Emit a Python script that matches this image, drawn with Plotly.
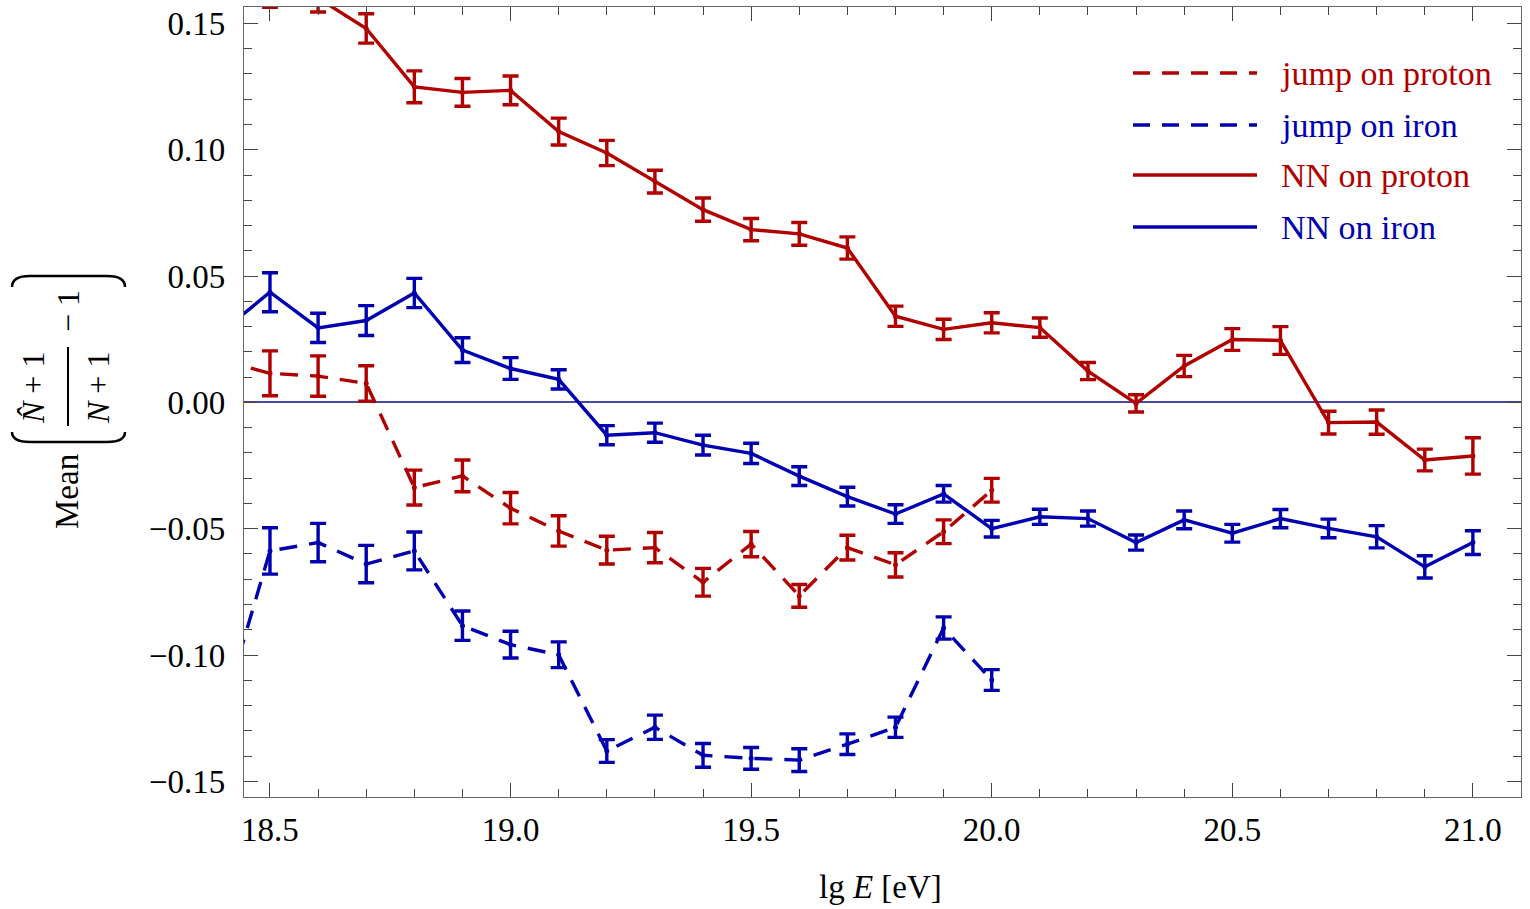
import plotly.graph_objects as go

# ---- data: lg E bins and mean relative deviation with errors ----
lgE_nn = [18.4, 18.5, 18.6, 18.7, 18.8, 18.9, 19.0, 19.1, 19.2, 19.3, 19.4, 19.5, 19.6,
          19.7, 19.8, 19.9, 20.0, 20.1, 20.2, 20.3, 20.4, 20.5, 20.6, 20.7, 20.8, 20.9, 21.0]
lgE_jump = [18.4, 18.5, 18.6, 18.7, 18.8, 18.9, 19.0, 19.1, 19.2, 19.3, 19.4, 19.5, 19.6,
            19.7, 19.8, 19.9, 20.0]

nn_proton = [0.1710, 0.1632, 0.1600, 0.1480, 0.1249, 0.1227, 0.1235, 0.1072, 0.0987, 0.0874,
             0.0763, 0.0684, 0.0667, 0.0611, 0.0341, 0.0289, 0.0315, 0.0296, 0.0124, -0.0004,
             0.0144, 0.0249, 0.0245, -0.0080, -0.0078, -0.0228, -0.0212]
nn_proton_err = [0.0070, 0.0068, 0.0055, 0.0058, 0.0063, 0.0055, 0.0057, 0.0053, 0.0050, 0.0045,
                 0.0046, 0.0044, 0.0045, 0.0044, 0.0040, 0.0040, 0.0040, 0.0038, 0.0034, 0.0034,
                 0.0042, 0.0043, 0.0055, 0.0045, 0.0048, 0.0043, 0.0072]

nn_iron = [0.0280, 0.0436, 0.0295, 0.0324, 0.0433, 0.0207, 0.0134, 0.0091, -0.0130, -0.0120,
           -0.0169, -0.0202, -0.0292, -0.0373, -0.0442, -0.0362, -0.0500, -0.0453, -0.0460,
           -0.0555, -0.0465, -0.0518, -0.0460, -0.0499, -0.0532, -0.0651, -0.0555]
nn_iron_err = [0.0080, 0.0077, 0.0058, 0.0059, 0.0058, 0.0049, 0.0043, 0.0038, 0.0038, 0.0038,
               0.0039, 0.0040, 0.0037, 0.0037, 0.0037, 0.0033, 0.0033, 0.0030, 0.0030,
               0.0030, 0.0035, 0.0035, 0.0036, 0.0037, 0.0044, 0.0044, 0.0047]

jump_proton = [0.0167, 0.0115, 0.0104, 0.0075, -0.0337, -0.0291, -0.0419, -0.0509, -0.0585,
               -0.0575, -0.0712, -0.0561, -0.0766, -0.0575, -0.0643, -0.0512, -0.0348]
jump_proton_err = [0.0090, 0.0089, 0.0080, 0.0070, 0.0069, 0.0063, 0.0062, 0.0060, 0.0055,
                   0.0060, 0.0055, 0.0050, 0.0045, 0.0049, 0.0048, 0.0047, 0.0047]

jump_iron = [-0.1235, -0.0588, -0.0555, -0.0640, -0.0588, -0.0884, -0.0959, -0.0999, -0.1380,
             -0.1286, -0.1397, -0.1409, -0.1416, -0.1353, -0.1286, -0.0893, -0.1099]
jump_iron_err = [0.0100, 0.0092, 0.0076, 0.0074, 0.0075, 0.0058, 0.0053, 0.0051, 0.0045,
                 0.0048, 0.0047, 0.0043, 0.0045, 0.0041, 0.0040, 0.0044, 0.0041]

series_names = ["jump on proton", "jump on iron", "NN on proton", "NN on iron"]

# ---- styling ----
RED = "#b00000"
BLUE = "#0000b0"
FONT = "Liberation Serif"
DASH = "18px,12px"

W, H = 1530, 909
ML, MR, MT, MB = 244, 9, 7, 112
PW, PH = W - ML - MR, H - MT - MB


def pap(px, py):
    """Pixel position on the page -> paper coordinates."""
    return (px - ML) / PW, (H - MB - py) / PH


series = [
    (lgE_jump, jump_proton, jump_proton_err, RED, DASH),
    (lgE_jump, jump_iron, jump_iron_err, BLUE, DASH),
    (lgE_nn, nn_proton, nn_proton_err, RED, "solid"),
    (lgE_nn, nn_iron, nn_iron_err, BLUE, "solid"),
]

fig = go.Figure()
for name, (xs, ys, es, col, dash) in zip(series_names, series):
    fig.add_trace(go.Scatter(
        x=xs, y=ys, name=name, mode="lines+markers",
        line=dict(color=col, width=3.4, dash=dash),
        marker=dict(color=col, size=5),
        error_y=dict(type="data", array=es, visible=True, color=col, thickness=3.4, width=8),
        showlegend=False,
    ))

shapes = []
annotations = []

# legend drawn inside the frame, top right
legend_rows = [73, 125, 175, 227]
for (name, (_, _, _, col, dash), py) in zip(series_names, series, legend_rows):
    x0, y0 = pap(1133, py)
    x1, _ = pap(1257, py)
    shapes.append(dict(type="line", xref="paper", yref="paper", x0=x0, x1=x1, y0=y0, y1=y0,
                       line=dict(color=col, width=3.4, dash="17px,12px" if dash != "solid" else "solid")))
    tx, ty = pap(1279, py)
    annotations.append(dict(xref="paper", yref="paper", x=tx, y=ty, xanchor="left",
                            yanchor="middle", text=name, showarrow=False,
                            font=dict(family=FONT, size=34, color=col)))

# x axis title
ax_, ay_ = pap(880, 887)
annotations.append(dict(xref="paper", yref="paper", x=ax_, y=ay_, xanchor="center",
                        yanchor="middle", text="lg <i>E</i> [eV]", showarrow=False,
                        font=dict(family=FONT, size=33, color="black")))

# y axis title: Mean( (N̂+1)/(N+1) − 1 ), written vertically
def vtext(px, py, txt, size=32):
    x, y = pap(px, py)
    annotations.append(dict(xref="paper", yref="paper", x=x, y=y, xanchor="center",
                            yanchor="middle", text=txt, textangle=-90, showarrow=False,
                            font=dict(family=FONT, size=size, color="black")))

vtext(67, 492, "Mean", 33)
vtext(33, 388, "<i>N\u0302</i> + 1", 32)
vtext(98, 388, "<i>N</i> + 1", 32)
vtext(68, 311, "\u2212 1", 32)

bx, by0 = pap(68, 347)
_, by1 = pap(68, 426)
shapes.append(dict(type="line", xref="paper", yref="paper", x0=bx, x1=bx, y0=by0, y1=by1,
                   line=dict(color="black", width=2)))


def paren(py_mid, py_end):
    xa, ym = pap(12, py_mid)
    xb, ye = pap(125, py_end)
    xa2, _ = pap(30, py_mid)
    xb2, _ = pap(107, py_mid)
    path = (f"M {xa},{ye} Q {xa},{ym} {xa2},{ym} L {xb2},{ym} Q {xb},{ym} {xb},{ye}")
    shapes.append(dict(type="path", xref="paper", yref="paper", path=path,
                       line=dict(color="black", width=2.5)))


paren(276, 287)
paren(442, 432)

axis_common = dict(
    showline=True, linecolor="#666666", linewidth=1.3, mirror="ticks",
    ticks="inside", ticklen=14, tickwidth=1.3, tickcolor="#444444",
    showgrid=False, tickfont=dict(family=FONT, size=33, color="black"),
)

fig.update_layout(
    width=W, height=H,
    margin=dict(l=ML, r=MR, t=MT, b=MB),
    paper_bgcolor="white", plot_bgcolor="white",
    xaxis=dict(range=[18.446, 21.1], tick0=18.5, dtick=0.5, tickformat=".1f",
               zeroline=False, ticklabelstandoff=3,
               minor=dict(dtick=0.1, tick0=18.5, ticks="inside", ticklen=8,
                          tickwidth=1.1, tickcolor="#444444", showgrid=False),
               **axis_common),
    yaxis=dict(range=[-0.1562, 0.1565], tick0=0, dtick=0.05, tickformat=".2f",
               zeroline=True, zerolinecolor="#4848a0", zerolinewidth=2,
               ticklabelstandoff=11,
               minor=dict(dtick=0.01, tick0=0, ticks="inside", ticklen=8,
                          tickwidth=1.1, tickcolor="#444444", showgrid=False),
               **axis_common),
    shapes=shapes,
    annotations=annotations,
    showlegend=False,
)

fig.write_html("out.html")
